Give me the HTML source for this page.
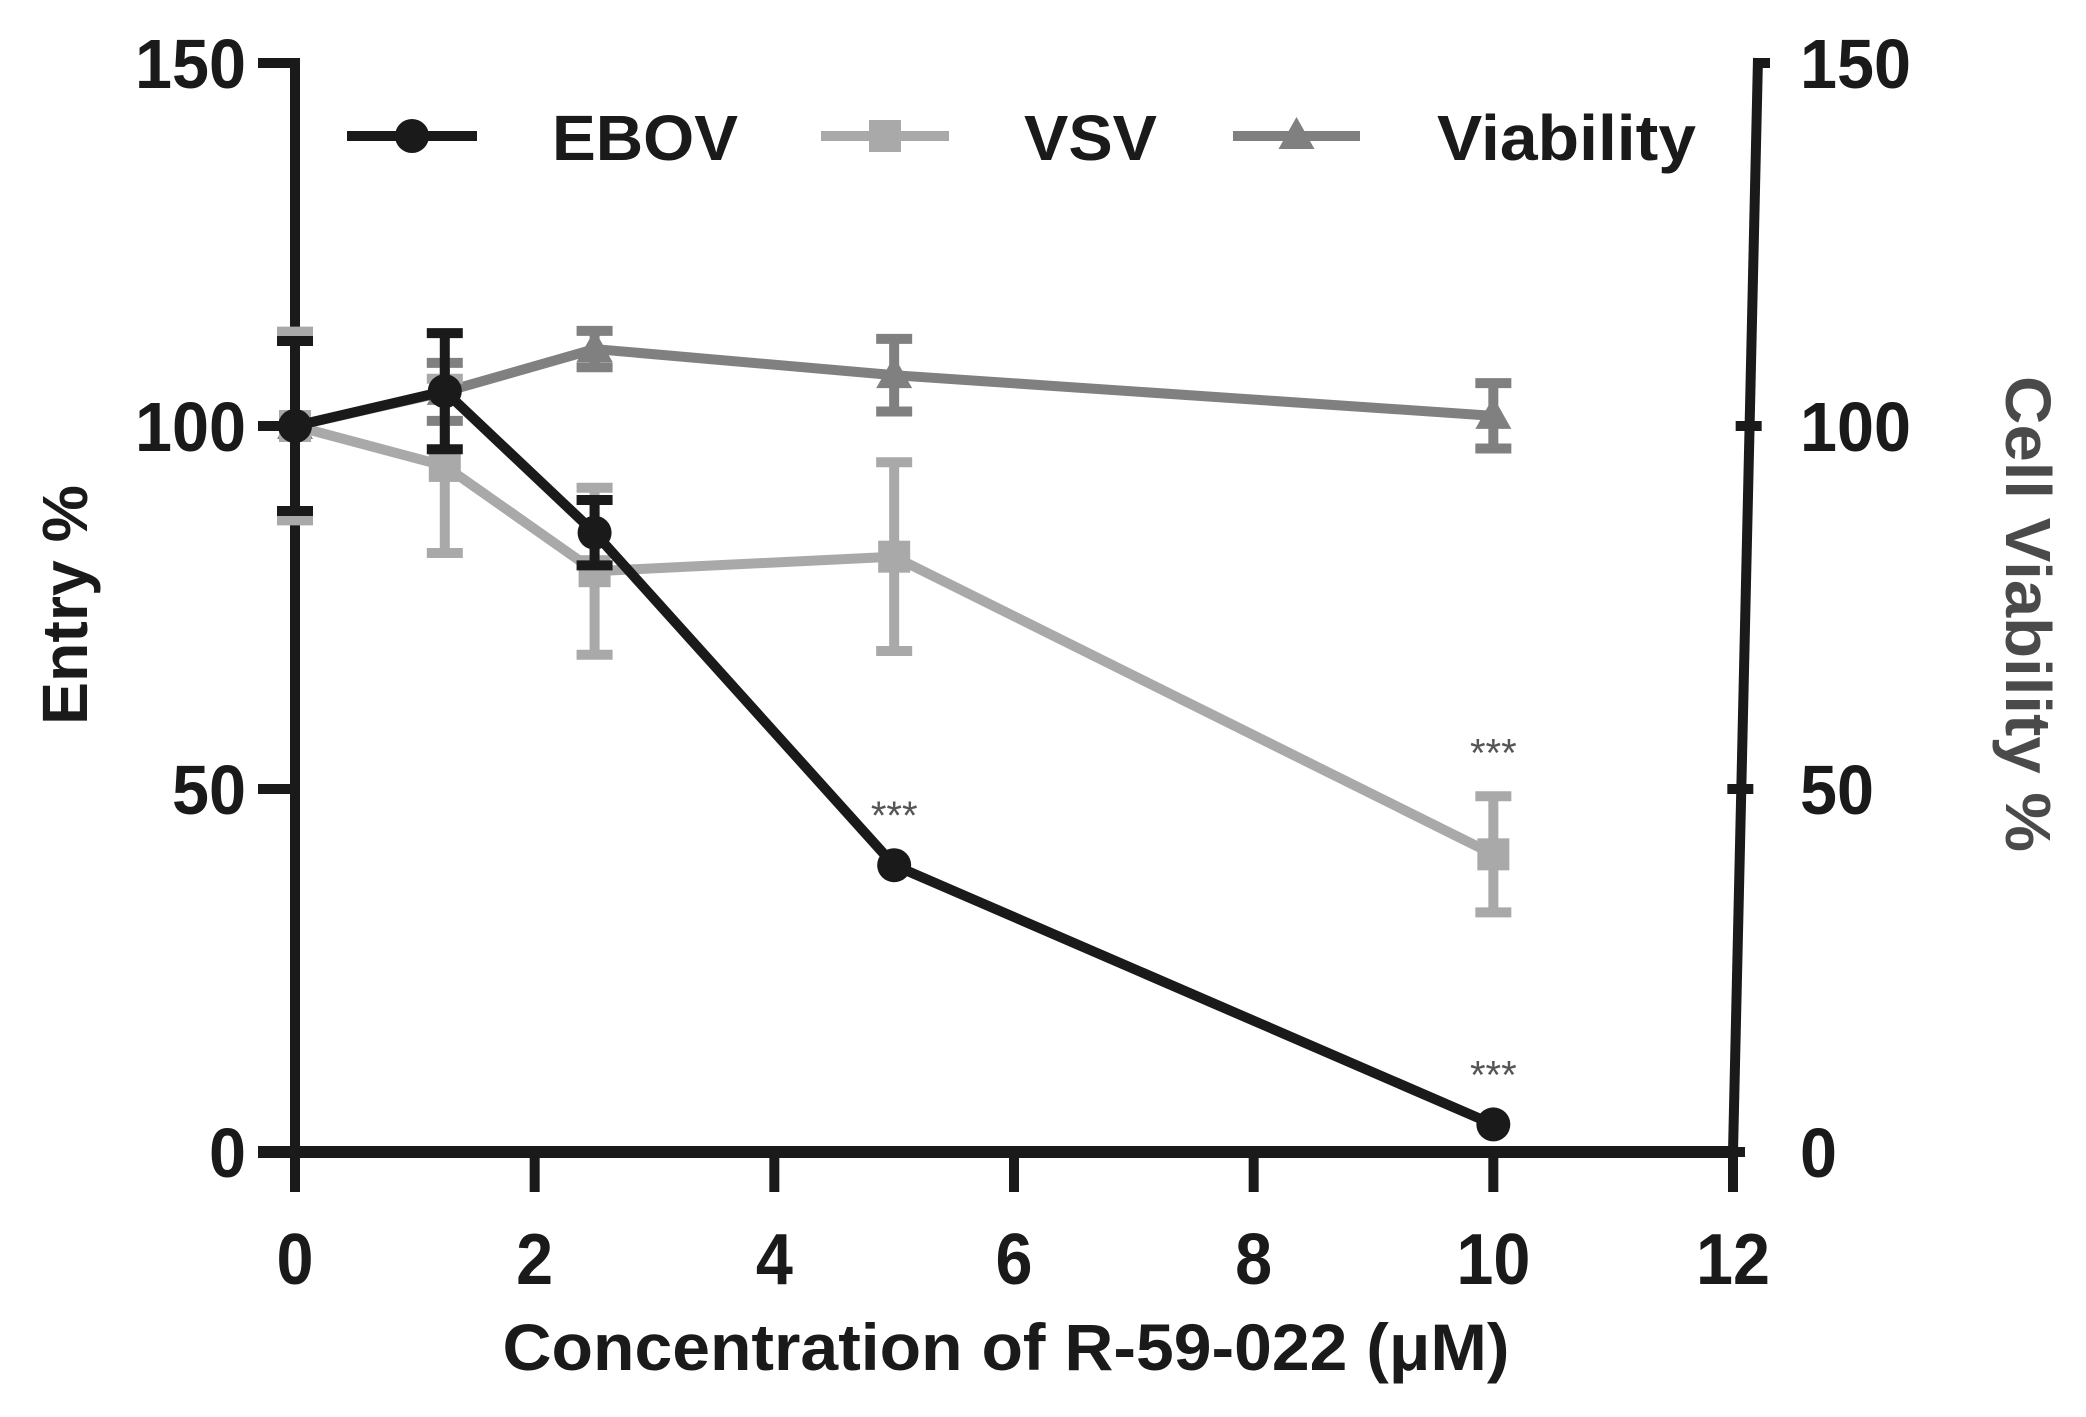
<!DOCTYPE html>
<html><head><meta charset="utf-8"><style>
html,body{margin:0;padding:0;background:#fff;}
svg{display:block;}
text{font-family:"Liberation Sans",Arial,sans-serif;font-weight:bold;fill:#1a1a1a;}
</style></head><body>
<svg id="chart" width="2086" height="1417" viewBox="0 0 2086 1417" xmlns="http://www.w3.org/2000/svg">
<g id="axes"></g>
<g id="series"></g>
<g id="legend"></g>
</svg>
<script>
const xs = [0, 1.25, 2.5, 5, 10];
const ebov = [100, 104.8, 85.3, 39.5, 3.8];
const ebovErr = [11.7, 8, 4.5, 0, 0];
const vsv = [100, 94.5, 80, 82, 41];
const vsvErr = [13, 12, 11.5, 13, 8];
const viab = [100, 104.7, 110.6, 107, 101.4];
const viabErr = [0, 4, 2.5, 5, 4.5];
const xTicks = [0, 2, 4, 6, 8, 10, 12];
const yTicks = [0, 50, 100, 150];
const sigLabels = [{x:5, y:39.5, off:58}, {x:10, y:41, off:110}, {x:10, y:3.8, off:58}];

const NS = "http://www.w3.org/2000/svg";
const X = v => 295 + v * (1733 - 295) / 12;
const Y = v => 1152 - v * (1152 - 63) / 150;
const axes = document.getElementById('axes');
const series = document.getElementById('series');
const legend = document.getElementById('legend');
function mk(tag, attrs, parent, txt){
  const e = document.createElementNS(NS, tag);
  for (const k in attrs) e.setAttribute(k, attrs[k]);
  if (txt !== undefined) e.textContent = txt;
  parent.appendChild(e);
  return e;
}
let e;
e = mk('line',{x1:295,y1:58,x2:295,y2:1191,stroke:'#1a1a1a','stroke-width':10},axes);


e = mk('line',{x1:258,y1:1152,x2:1738,y2:1152,stroke:'#1a1a1a','stroke-width':12},axes);


e = mk('line',{x1:1758,y1:58,x2:1733,y2:1152,stroke:'#1a1a1a','stroke-width':10},axes);


const RX = v => 1733 + (v/150)*25;
yTicks.forEach(t => {
  const y = Y(t);
  let l = mk('line',{x1:258,y1:y,x2:295,y2:y,stroke:'#1a1a1a','stroke-width':10},axes);
  
  
  let tx = mk('text',{x:246,y:y+25,'text-anchor':'end','font-size':70,textLength:String(t).length*37,lengthAdjust:'spacingAndGlyphs'},axes,String(t));
  
  
  const rx = RX(t);
  let r = mk('line',{x1:t===150?rx:rx-14,y1:y,x2:rx+12,y2:y,stroke:'#1a1a1a','stroke-width':10},axes);
  
  
  let rt = mk('text',{x:1800,y:y+25,'font-size':70,textLength:String(t).length*37,lengthAdjust:'spacingAndGlyphs'},axes,String(t));
  
  
});
xTicks.forEach(t => {
  const x = X(t);
  let l = mk('line',{x1:x,y1:1152,x2:x,y2:1192,stroke:'#1a1a1a','stroke-width':10},axes);
  
  
  let tx = mk('text',{x:x,y:1284,'text-anchor':'middle','font-size':72,textLength:String(t).length*37,lengthAdjust:'spacingAndGlyphs'},axes,String(t));
  
  
});
e = mk('text',{x:1006,y:1370,'text-anchor':'middle','font-size':66,textLength:1007,lengthAdjust:'spacingAndGlyphs'},axes,'Concentration of R-59-022 (μM)');


e = mk('text',{x:0,y:0,'text-anchor':'middle','font-size':64,textLength:240,lengthAdjust:'spacingAndGlyphs',transform:'translate(87,605) rotate(-90)'},axes,'Entry %');


e = mk('text',{x:0,y:0,'text-anchor':'middle','font-size':64,textLength:476,lengthAdjust:'spacingAndGlyphs',transform:'translate(2006,614) rotate(90)',style:'fill:#4a4a4a'},axes,'Cell Viability %');



function drawSeries(name, vals, errs, color, marker){
  const g = mk('g',{},series);
  
  
  xs.forEach((x,i) => {
    if (!errs[i]) return;
    const cx = X(x), y1 = Y(vals[i]+errs[i]), y2 = Y(vals[i]-errs[i]);
    const eb = mk('path',{d:`M${cx},${y1}V${y2}M${cx-18},${y1}H${cx+18}M${cx-18},${y2}H${cx+18}`,stroke:color,'stroke-width':10,fill:'none'},g);
    
    
  });
  const pts = xs.map((x,i)=>X(x)+','+Y(vals[i])).join(' ');
  const pl = mk('polyline',{points:pts,stroke:color,'stroke-width':10,fill:'none','stroke-linejoin':'round'},g);
  
  
  xs.forEach((x,i) => {
    const m = drawMarker(g, marker, X(x), Y(vals[i]), color);
    
    
  });
}
function drawMarker(g, marker, cx, cy, color){
  if (marker==='circle') return mk('circle',{cx:cx,cy:cy,r:17,fill:color},g);
  if (marker==='square') return mk('rect',{x:cx-16,y:cy-16,width:32,height:32,fill:color},g);
  return mk('path',{d:`M${cx},${cy-19}L${cx+18},${cy+13}L${cx-18},${cy+13}Z`,fill:color},g);
}
drawSeries('viability', viab, viabErr, '#808080', 'triangle');
drawSeries('vsv', vsv, vsvErr, '#a9a9a9', 'square');
drawSeries('ebov', ebov, ebovErr, '#1a1a1a', 'circle');
sigLabels.forEach(s => {
  const t = mk('text',{x:X(s.x),y:Y(s.y)-s.off+22,'text-anchor':'middle','font-size':40,style:'fill:#555;font-weight:normal'},series,'***');
  
  
});
const leg = [
  {name:'EBOV', color:'#1a1a1a', marker:'circle', x1:347, x2:477, tx:552, tl:186},
  {name:'VSV', color:'#a9a9a9', marker:'square', x1:821, x2:949, tx:1024, tl:133},
  {name:'Viability', color:'#808080', marker:'triangle', x1:1233, x2:1360, tx:1437, tl:259}
];
leg.forEach(l => {
  const g = mk('g',{},legend);
  
  
  mk('line',{x1:l.x1,y1:136,x2:l.x2,y2:136,stroke:l.color,'stroke-width':10},g);
  drawMarker(g, l.marker, (l.x1+l.x2)/2, 136, l.color);
  mk('text',{x:l.tx,y:160,'font-size':64,textLength:l.tl,lengthAdjust:'spacingAndGlyphs'},g,l.name);
});
</script>
</body></html>
